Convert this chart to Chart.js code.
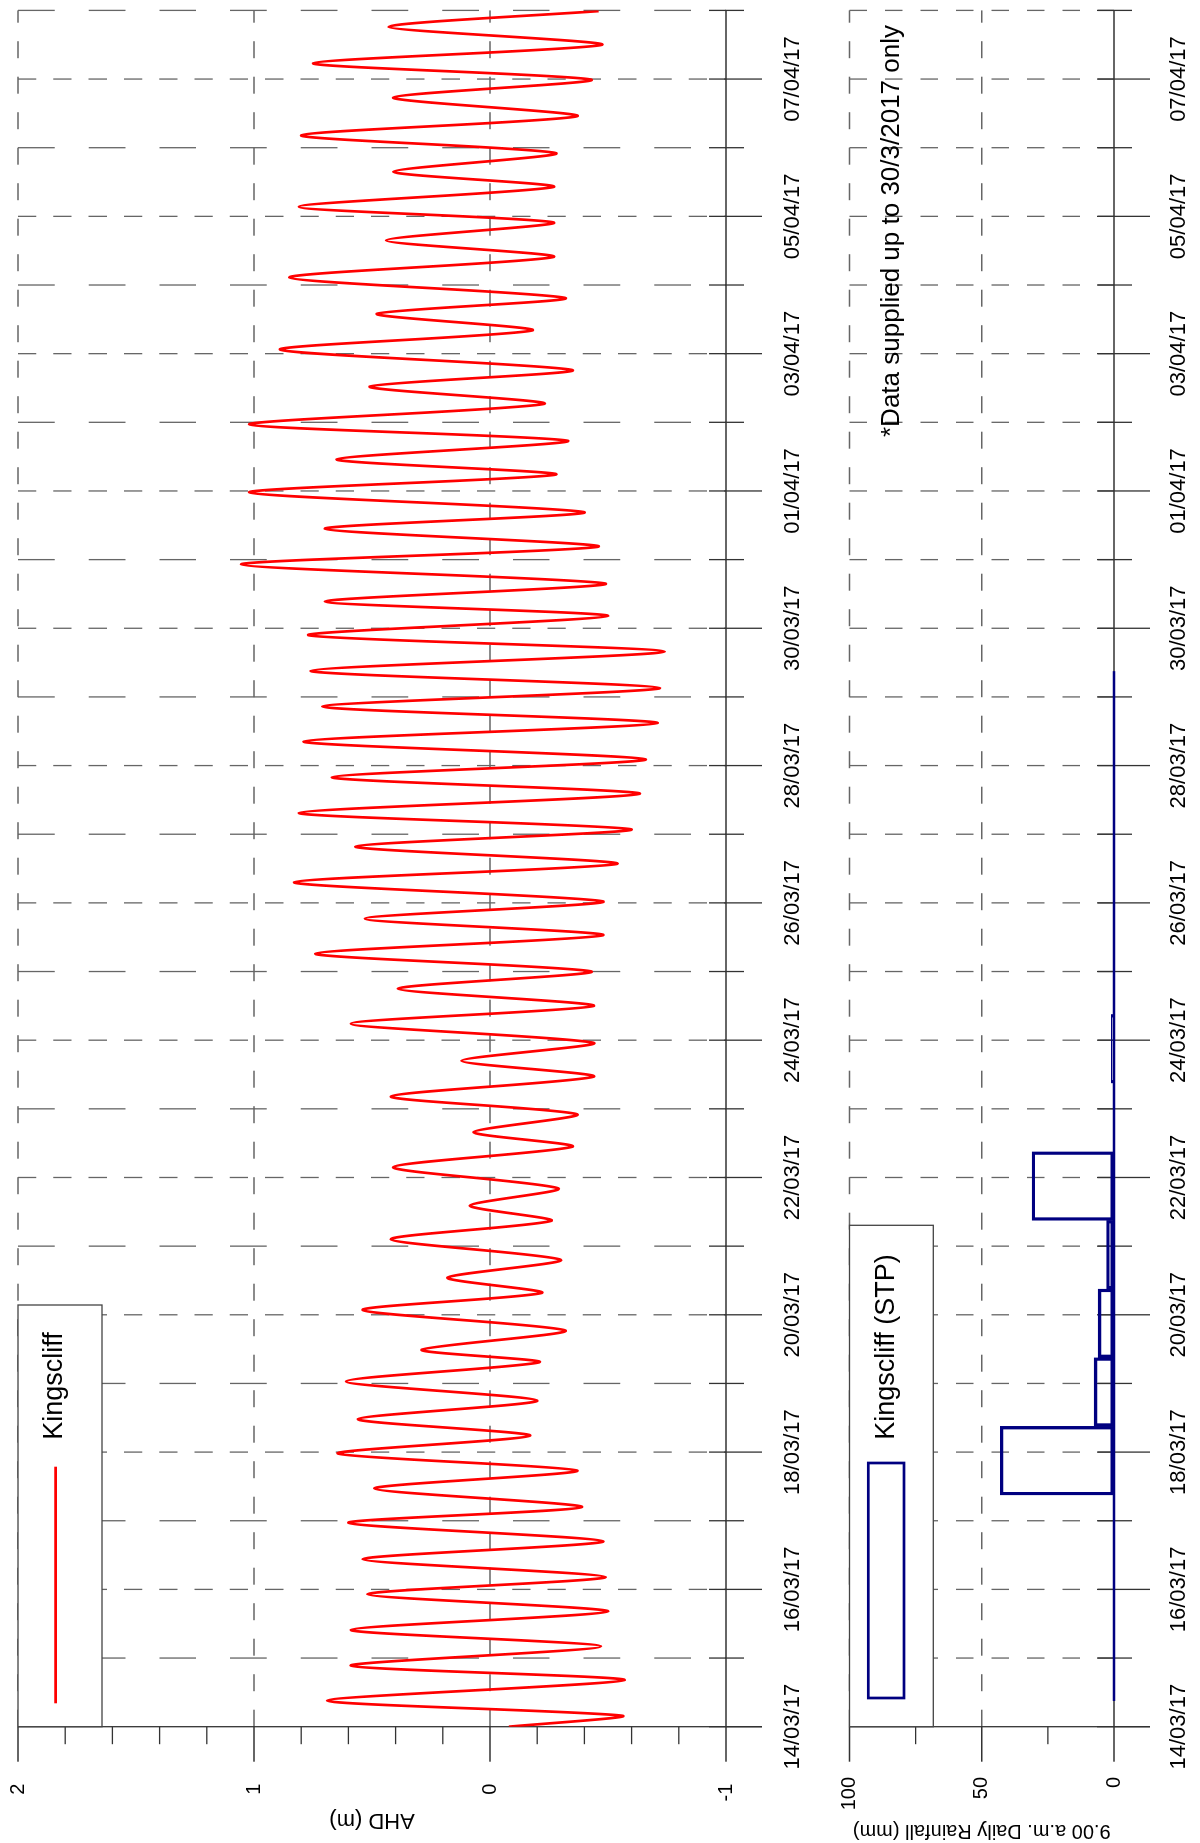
<!DOCTYPE html>
<html>
<head>
<meta charset="utf-8">
<script src="https://cdn.jsdelivr.net/npm/chart.js@4.4.1/dist/chart.umd.min.js"></script>
<style>
html, body { margin: 0; padding: 0; background: #fff; }
body { width: 1200px; height: 1843px; overflow: hidden; position: relative; }
/* the plot is laid out landscape and turned a quarter turn, like the printed sheet */
#sheet { position: absolute; left: 0; top: 0; width: 1843px; height: 1200px;
         transform-origin: 0 0; transform: translate(0, 1843px) rotate(-90deg); }
#sheet canvas { position: absolute; left: 0; }
#tide { top: 0; }
#rain { top: 830px; }
</style>
</head>
<body>
<div id="sheet">
  <canvas id="tide" width="1843" height="830"></canvas>
  <canvas id="rain" width="1843" height="370"></canvas>
</div>
<script>
// Tide turning points
// tideDay = days after 14/03/2017 00:00, tideLevel = m AHD
const tideDay = [
  0.00, 0.16, 0.38, 0.68, 0.89, 1.17, 1.41, 1.68, 1.93, 2.18,
  2.44, 2.70, 2.97, 3.20, 3.47, 3.73, 3.98, 4.24, 4.48, 4.75,
  5.03, 5.31, 5.49, 5.77, 6.07, 6.32, 6.54, 6.80, 7.10, 7.37,
  7.59, 7.84, 8.15, 8.45, 8.66, 8.92, 9.18, 9.47, 9.70, 9.96,
  10.24, 10.50, 10.75, 11.00, 11.26, 11.53, 11.77, 12.02, 12.30, 12.57,
  12.82, 13.07, 13.31, 13.59, 13.83, 14.09, 14.35, 14.62, 14.86, 15.13,
  15.38, 15.66, 15.90, 16.18, 16.39, 16.65, 16.93, 17.19, 17.45, 17.69,
  17.98, 18.24, 18.46, 18.73, 18.97, 19.27, 19.52, 19.76, 20.06, 20.34,
  20.58, 20.81, 21.11, 21.41, 21.65, 21.91, 22.14, 22.43, 22.65, 22.92,
  23.18, 23.46, 23.73, 23.99, 24.23, 24.50, 24.76, 24.99
];
const tideLevel = [
  -0.08, -0.56, 0.69, -0.57, 0.59, -0.47, 0.59, -0.50, 0.52, -0.49,
  0.54, -0.48, 0.60, -0.39, 0.49, -0.37, 0.645, -0.17, 0.56, -0.20,
  0.61, -0.21, 0.29, -0.32, 0.54, -0.22, 0.18, -0.30, 0.42, -0.26,
  0.085, -0.29, 0.41, -0.35, 0.07, -0.37, 0.42, -0.44, 0.12, -0.44,
  0.59, -0.44, 0.39, -0.43, 0.74, -0.48, 0.53, -0.48, 0.83, -0.54,
  0.57, -0.60, 0.81, -0.635, 0.67, -0.66, 0.79, -0.71, 0.71, -0.72,
  0.76, -0.74, 0.77, -0.50, 0.70, -0.49, 1.055, -0.46, 0.70, -0.40,
  1.02, -0.28, 0.65, -0.33, 1.02, -0.23, 0.51, -0.35, 0.89, -0.18,
  0.48, -0.32, 0.85, -0.27, 0.44, -0.27, 0.81, -0.27, 0.41, -0.28,
  0.80, -0.37, 0.41, -0.43, 0.75, -0.475, 0.43, -0.46
];

// 9 a.m. daily rainfall, mm for the 24 h ending on each reading date
const rainDates = ['15/03/17', '16/03/17', '17/03/17', '18/03/17', '19/03/17',
                   '20/03/17', '21/03/17', '22/03/17', '23/03/17', '24/03/17',
                   '25/03/17', '26/03/17', '27/03/17', '28/03/17', '29/03/17'];
const rainMm = [0, 0, 0, 43, 7.5, 6, 2.8, 31, 0, 1.0, 0, 0, 0, 0, 0];

// axis ticks
const dateLabels = ['14/03/17', '16/03/17', '18/03/17', '20/03/17', '22/03/17',
                    '24/03/17', '26/03/17', '28/03/17', '30/03/17', '01/04/17',
                    '03/04/17', '05/04/17', '07/04/17'];
const ahdTicks = [-1, 0, 1, 2];
const rainTicks = [0, 50, 100];
const dayCount = 25; // 14/03/17 to 08/04/17

const FONT = "'Liberation Sans', Arial, sans-serif";
Chart.defaults.font.family = FONT;
Chart.defaults.color = '#000';

function readingDay(s) {
  const [dd, mm, yy] = s.split('/').map(Number);
  const t = Date.UTC(2000 + yy, mm - 1, dd, 9) - Date.UTC(2017, 2, 14);
  return t / 86400000;
}

function seg(ctx, x1, y1, x2, y2) {
  ctx.beginPath();
  ctx.moveTo(x1, y1);
  ctx.lineTo(x2, y2);
  ctx.stroke();
}

// invisible tick marks are used only to push labels away from the axis
function spacer(len) {
  return { display: true, drawOnChartArea: false, drawTicks: true, tickLength: len,
           tickColor: 'rgba(0,0,0,0)', color: 'rgba(0,0,0,0)' };
}

// grid, axis lines, tick marks and legend drawn the way the original plotter did
const decor = {
  id: 'decor',
  beforeDatasetsDraw(chart, args, o) {
    const { ctx, chartArea: a, scales: { x, y } } = chart;
    ctx.save();
    ctx.lineWidth = 1.3;
    ctx.strokeStyle = '#666';
    ctx.setLineDash([17, 18.5]);
    o.valueLines.forEach(v => {
      const py = y.getPixelForValue(v);
      seg(ctx, a.left, py, a.right, py);
    });
    for (let d = 1; d <= dayCount; d++) {
      const px = x.getPixelForValue(d);
      ctx.setLineDash(o.dayDash(d));
      seg(ctx, px, a.top, px, a.bottom);
    }
    ctx.setLineDash([]);
    ctx.strokeStyle = '#333';
    // value axis with outward ticks
    seg(ctx, a.left, a.top, a.left, a.bottom + 36);
    const n = Math.round((o.max - o.min) / o.minor);
    for (let i = 0; i <= n; i++) {
      const v = o.min + i * o.minor;
      const py = y.getPixelForValue(v);
      const major = Math.abs(v / o.major - Math.round(v / o.major)) < 1e-6;
      seg(ctx, a.left - (major ? 35 : 17.5), py, a.left, py);
    }
    // date axis with crossing ticks
    seg(ctx, a.left, a.bottom, a.right, a.bottom);
    for (let d = 0; d <= dayCount; d++) {
      const px = x.getPixelForValue(d);
      seg(ctx, px, a.bottom - 17, px, a.bottom + (d % 2 ? 18 : 36));
    }
    ctx.restore();
  },
  afterDraw(chart, args, o) {
    const { ctx, chartArea: a } = chart;
    const L = o.legend;
    ctx.save();
    ctx.fillStyle = '#fff';
    ctx.fillRect(a.left, a.top, L.w, L.h);
    ctx.strokeStyle = '#444';
    ctx.lineWidth = 1.3;
    ctx.strokeRect(a.left, a.top, L.w, L.h);
    ctx.strokeStyle = L.color;
    ctx.lineWidth = L.lw;
    if (L.kind === 'line') {
      seg(ctx, a.left + 23.4, a.top + 37.7, a.left + 260, a.top + 37.7);
    } else {
      ctx.strokeRect(a.left + 28.7, a.top + 18.8, 235, 35.7);
    }
    ctx.fillStyle = '#000';
    ctx.font = '27px ' + FONT;
    ctx.textBaseline = 'middle';
    ctx.fillText(L.text, a.left + 287, a.top + 37);
    if (o.note) {
      ctx.font = '26px ' + FONT;
      ctx.fillText(o.note, 1406, a.top + 42);
    }
    ctx.restore();
  }
};

new Chart(document.getElementById('tide'), {
  type: 'line',
  data: {
    datasets: [{
      label: 'Kingscliff',
      data: tideDay.map((d, i) => ({ x: d, y: tideLevel[i] })),
      borderColor: '#ff0000',
      borderWidth: 2.7,
      pointRadius: 0,
      tension: 0.25,
      fill: false
    }]
  },
  options: {
    responsive: false,
    animation: false,
    layout: { padding: { top: 18, right: 10.4, left: 0, bottom: 0 } },
    plugins: {
      legend: { display: false },
      tooltip: { enabled: false },
      decor: {
        valueLines: [2, 1, 0],
        dayDash: d => (d % 2 ? [36.7, 34] : [18.3, 17]),
        min: -1, max: 2, minor: 0.2, major: 1,
        legend: { w: 421.7, h: 84, kind: 'line', color: '#ff0000', lw: 2.7, text: 'Kingscliff' }
      }
    },
    scales: {
      x: {
        type: 'linear', min: 0, max: dayCount, offset: false,
        grid: spacer(53.5), border: { display: false },
        ticks: {
          stepSize: 1, autoSkip: false, maxRotation: 0, minRotation: 0, includeBounds: false,
          padding: 0, font: { size: 22 },
          callback: v => (Math.round(v) % 2 === 0 ? dateLabels[Math.round(v) / 2] : '')
        },
        afterFit: s => { s.height = 104; }
      },
      y: {
        min: ahdTicks[0], max: ahdTicks[ahdTicks.length - 1],
        grid: spacer(57), border: { display: false },
        ticks: { stepSize: 1, padding: 0, font: { size: 20 },
                 callback: v => (ahdTicks.includes(v) ? String(v) : '') },
        title: { display: true, text: 'AHD (m)', font: { size: 22 }, padding: { top: 9.8, bottom: 0 } },
        afterFit: s => { s.width = 116.3; }
      }
    }
  },
  plugins: [decor]
});

const rainStart = readingDay(rainDates[0]) - 1;
const rainEnd = readingDay(rainDates[rainDates.length - 1]);

new Chart(document.getElementById('rain'), {
  type: 'bar',
  data: {
    datasets: [{
      type: 'bar',
      label: 'Kingscliff (STP)',
      data: rainDates.map((s, i) => ({ x: readingDay(s) - 0.5, y: rainMm[i] })),
      backgroundColor: 'rgba(0,0,0,0)',
      borderColor: '#000080',
      borderWidth: 2.7,
      borderSkipped: false,
      barPercentage: 1,
      categoryPercentage: 1,
      clip: false
    }, {
      type: 'line',
      label: 'record',
      data: [{ x: rainStart, y: 0 }, { x: rainEnd, y: 0 }],
      borderColor: '#000080',
      borderWidth: 2.7,
      pointRadius: 0,
      clip: false
    }]
  },
  options: {
    responsive: false,
    animation: false,
    layout: { padding: { top: 19.5, right: 10.4, left: 0, bottom: 0 } },
    plugins: {
      legend: { display: false },
      tooltip: { enabled: false },
      decor: {
        valueLines: [100, 50],
        dayDash: () => [17.5, 18],
        min: 0, max: 100, minor: 25, major: 50,
        legend: { w: 501.4, h: 83.8, kind: 'rect', color: '#000080', lw: 2.7, text: 'Kingscliff (STP)' },
        note: '*Data supplied up to 30/3/2017 only'
      }
    },
    scales: {
      x: {
        type: 'linear', min: 0, max: dayCount, offset: false,
        grid: spacer(51.8), border: { display: false },
        ticks: {
          stepSize: 1, autoSkip: false, maxRotation: 0, minRotation: 0, includeBounds: false,
          padding: 0, font: { size: 22 },
          callback: v => (Math.round(v) % 2 === 0 ? dateLabels[Math.round(v) / 2] : '')
        },
        afterFit: s => { s.height = 86; }
      },
      y: {
        min: rainTicks[0], max: rainTicks[rainTicks.length - 1],
        grid: spacer(50.3), border: { display: false },
        ticks: { stepSize: 50, padding: 0, font: { size: 20 } },
        title: { display: true, text: '9.00 a.m. Daily Rainfall (mm)', font: { size: 20 }, padding: { top: 0.5, bottom: 0 } },
        afterFit: s => { s.width = 116.3; }
      }
    }
  },
  plugins: [decor]
});
</script>
</body>
</html>
